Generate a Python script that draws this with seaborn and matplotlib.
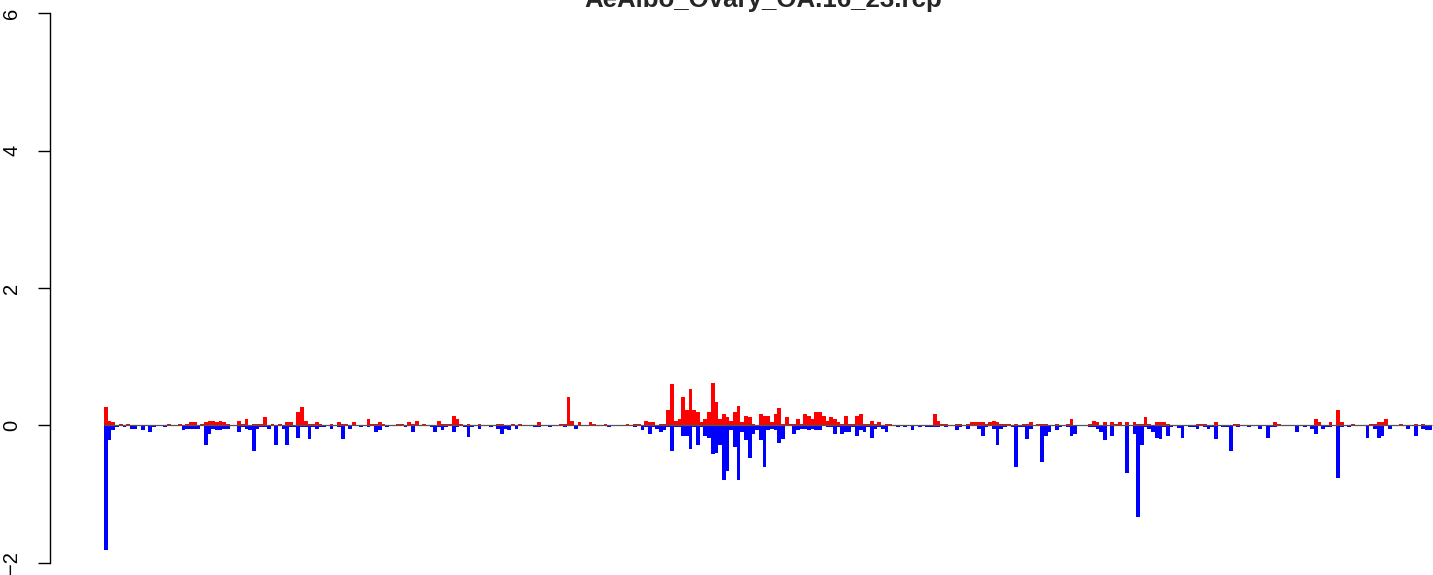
import numpy as np
import pandas as pd
import matplotlib
matplotlib.use("Agg")
import matplotlib.pyplot as plt
import seaborn as sns

title = "AeAlbo_Ovary_OA.16_23.rcp"
y_ticks = [-2, 0, 2, 4, 6]
y_tick_labels = ["\u22122", "0", "2", "4", "6"]

# positive (red) coverage per bin
pos_vals = [
    0.27, 0.07, 0.045, 0, 0.02, 0, 0.02, 0, 0, 0,
    0, 0, 0, 0, 0, 0, 0, 0.02, 0, 0,
    0.02, 0, 0.02, 0.045, 0.045, 0, 0.02, 0.045, 0.07, 0.07,
    0.045, 0.07, 0.045, 0.02, 0, 0, 0.07, 0.02, 0.09, 0,
    0.02, 0.02, 0.02, 0.12, 0, 0.02, 0, 0.02, 0, 0.045,
    0.045, 0, 0.2, 0.27, 0.07, 0.02, 0.02, 0.045, 0.02, 0,
    0, 0.02, 0, 0.045, 0.02, 0.02, 0, 0.045, 0, 0,
    0, 0.09, 0.02, 0.02, 0.045, 0.02, 0, 0, 0, 0.02,
    0.02, 0, 0.045, 0.02, 0.07, 0, 0.02, 0, 0, 0,
    0.07, 0.02, 0.02, 0.02, 0.13, 0.09, 0.02, 0, 0.02, 0,
    0, 0.02, 0, 0, 0, 0, 0.02, 0.02, 0, 0,
    0.02, 0, 0.02, 0, 0, 0, 0, 0.045, 0, 0,
    0, 0, 0, 0.015, 0.015, 0.41, 0.07, 0, 0.045, 0,
    0, 0.045, 0.015, 0, 0, 0.015, 0, 0, 0, 0,
    0, 0.015, 0, 0.015, 0.015, 0, 0.07, 0.045, 0.045, 0,
    0.015, 0.015, 0.23, 0.6, 0.07, 0.09, 0.42, 0.23, 0.53, 0.23,
    0.2, 0.045, 0.09, 0.2, 0.61, 0.34, 0.09, 0.16, 0.12, 0.07,
    0.19, 0.28, 0.045, 0.13, 0.12, 0.015, 0, 0.16, 0.13, 0.13,
    0.045, 0.16, 0.26, 0.015, 0.12, 0.015, 0.015, 0.09, 0.015, 0.16,
    0.13, 0.09, 0.19, 0.19, 0.13, 0.07, 0.12, 0.09, 0.045, 0.015,
    0.13, 0.015, 0.015, 0.13, 0.16, 0.015, 0.015, 0.07, 0.015, 0.045,
    0, 0.015, 0.015, 0, 0, 0, 0, 0, 0, 0,
    0, 0, 0, 0, 0.16, 0.07, 0.015, 0.015, 0, 0,
    0.015, 0.015, 0, 0.015, 0.045, 0.045, 0.045, 0.045, 0.015, 0.045,
    0.07, 0.05, 0.015, 0.015, 0.015, 0, 0.015, 0, 0.015, 0.015,
    0.045, 0, 0.015, 0.015, 0.015, 0, 0, 0.015, 0, 0,
    0.015, 0.09, 0, 0, 0, 0, 0.015, 0.07, 0.045, 0,
    0.045, 0, 0.045, 0.015, 0.045, 0, 0.045, 0, 0.045, 0.015,
    0.015, 0.12, 0.015, 0, 0.045, 0.045, 0.045, 0.015, 0, 0,
    0, 0, 0, 0, 0, 0.015, 0.015, 0.015, 0, 0,
    0.045, 0, 0, 0, 0, 0.015, 0.015, 0, 0, 0,
    0, 0, 0, 0, 0, 0, 0.045, 0.015, 0, 0,
    0, 0, 0, 0, 0, 0, 0, 0.09, 0.045, 0,
    0, 0.045, 0, 0.23, 0.045, 0, 0, 0.015, 0, 0,
    0, 0, 0.015, 0.015, 0.045, 0.045, 0.09, 0, 0, 0,
    0.015, 0, 0, 0, 0.015, 0, 0.015, 0, 0,
]

# negative (blue) coverage per bin, as magnitudes
neg_vals = [
    1.81, 0.22, 0.07, 0.03, 0, 0.03, 0, 0.06, 0.06, 0,
    0.07, 0, 0.1, 0.03, 0, 0, 0.03, 0, 0, 0,
    0, 0.07, 0.06, 0.06, 0.06, 0.06, 0, 0.29, 0.13, 0.06,
    0.07, 0.07, 0.06, 0.06, 0, 0, 0.1, 0.03, 0.06, 0.07,
    0.37, 0.06, 0.03, 0.03, 0.06, 0, 0.29, 0, 0.06, 0.28,
    0.03, 0.03, 0.18, 0.03, 0.03, 0.2, 0.03, 0.06, 0.03, 0.03,
    0, 0.06, 0, 0.03, 0.2, 0, 0.06, 0, 0, 0.03,
    0, 0.03, 0, 0.1, 0.07, 0, 0.03, 0, 0, 0,
    0, 0.03, 0, 0.1, 0, 0, 0, 0, 0.03, 0.1,
    0.03, 0.07, 0.03, 0, 0.1, 0.03, 0, 0.02, 0.17, 0.03,
    0, 0.06, 0, 0, 0.03, 0, 0.06, 0.13, 0.06, 0.07,
    0, 0.06, 0, 0, 0, 0, 0.03, 0.03, 0, 0,
    0.03, 0, 0, 0, 0.03, 0, 0, 0.06, 0, 0,
    0, 0, 0, 0, 0, 0, 0.03, 0, 0, 0,
    0, 0, 0, 0.03, 0, 0.07, 0.03, 0.13, 0.03, 0.06,
    0.1, 0.07, 0.03, 0.37, 0.03, 0.03, 0.15, 0.15, 0.35, 0.03,
    0.28, 0.03, 0.15, 0.18, 0.42, 0.4, 0.29, 0.8, 0.66, 0.07,
    0.32, 0.8, 0.1, 0.22, 0.48, 0.13, 0.07, 0.22, 0.61, 0.07,
    0.06, 0.07, 0.25, 0.2, 0, 0.015, 0.13, 0.07, 0.06, 0.06,
    0.07, 0.06, 0.07, 0.07, 0, 0.03, 0.03, 0.13, 0.03, 0.13,
    0.1, 0.1, 0.03, 0.15, 0.07, 0.1, 0.03, 0.18, 0.06, 0.03,
    0.06, 0.1, 0, 0, 0.03, 0, 0.03, 0, 0.07, 0,
    0.03, 0, 0.03, 0.03, 0.03, 0.03, 0, 0.03, 0, 0,
    0.07, 0.03, 0, 0.06, 0, 0, 0.06, 0.15, 0.03, 0,
    0.06, 0.28, 0.06, 0.03, 0.015, 0.03, 0.61, 0.03, 0.03, 0.2,
    0.06, 0, 0.015, 0.54, 0.15, 0.1, 0, 0.07, 0.03, 0,
    0.03, 0.15, 0.13, 0, 0, 0, 0.03, 0.03, 0.06, 0.1,
    0.22, 0, 0.15, 0, 0, 0, 0.7, 0, 0.13, 1.33,
    0.28, 0.03, 0.06, 0.1, 0.18, 0.2, 0.03, 0.15, 0.03, 0.015,
    0.045, 0.18, 0, 0.03, 0.03, 0.06, 0.015, 0.03, 0.06, 0.03,
    0.2, 0, 0.03, 0.03, 0.37, 0.015, 0.03, 0, 0, 0.03,
    0, 0, 0.06, 0, 0.18, 0.03, 0.03, 0, 0, 0,
    0, 0, 0.1, 0, 0.03, 0, 0.06, 0.13, 0, 0.06,
    0.03, 0.03, 0, 0.76, 0.03, 0, 0.03, 0, 0, 0,
    0, 0.18, 0.015, 0.06, 0.18, 0.15, 0.015, 0.06, 0, 0,
    0, 0, 0.06, 0, 0.15, 0.015, 0.06, 0.07, 0.07,
]

n = min(len(pos_vals), len(neg_vals))
bins = np.arange(n)
df = pd.DataFrame({"bin": bins, "pos": pos_vals[:n], "neg": -np.array(neg_vals[:n])})

sns.set_style("white")
plt.rcParams["font.family"] = ["Liberation Sans", "DejaVu Sans"]

W, H = 1433, 575
fig = plt.figure(figsize=(W / 100, H / 100), dpi=100)
y_top_px, y_bot_px = 13.4, 562.7
ax_left_px = 50
ax = fig.add_axes([ax_left_px / W, (H - y_bot_px) / H, (W - ax_left_px) / W, (y_bot_px - y_top_px) / H])

sns.barplot(data=df, x="bin", y="pos", color="#FF0000", saturation=1, width=1.0,
            errorbar=None, linewidth=0, ax=ax)
sns.barplot(data=df, x="bin", y="neg", color="#0000FF", saturation=1, width=1.0,
            errorbar=None, linewidth=0, ax=ax)

ax.hlines(0, -0.5, n - 0.5, color="#555555", linewidth=0.9, zorder=5)

px_per_bin = (1432.3 - 104) / n
xl = -0.5 - (104 - ax_left_px) / px_per_bin
xr = -0.5 + (W - 104) / px_per_bin
ax.set_xlim(xl, xr)
ax.set_ylim(-2, 6)

ax.set_xticks([])
ax.set_xlabel("")
ax.set_ylabel("")
ax.set_yticks(y_ticks)
ax.set_yticklabels(y_tick_labels, rotation=90, va="center", fontsize=14.5)
ax.tick_params(axis="y", length=8.6, width=1.0, pad=12, color="black", labelcolor="black", left=True)

for s in ["top", "right", "bottom"]:
    ax.spines[s].set_visible(False)
ax.spines["left"].set_bounds(-2, 6)
ax.spines["left"].set_linewidth(1.0)
ax.spines["left"].set_color("black")
ax.set_facecolor("white")
ax.grid(False)

fig.text(763.5 / W, 1 - 6.5 / H, title, ha="center", va="baseline",
         fontsize=18.6, fontweight="bold")

fig.savefig("out.png", dpi=100, facecolor="white")
